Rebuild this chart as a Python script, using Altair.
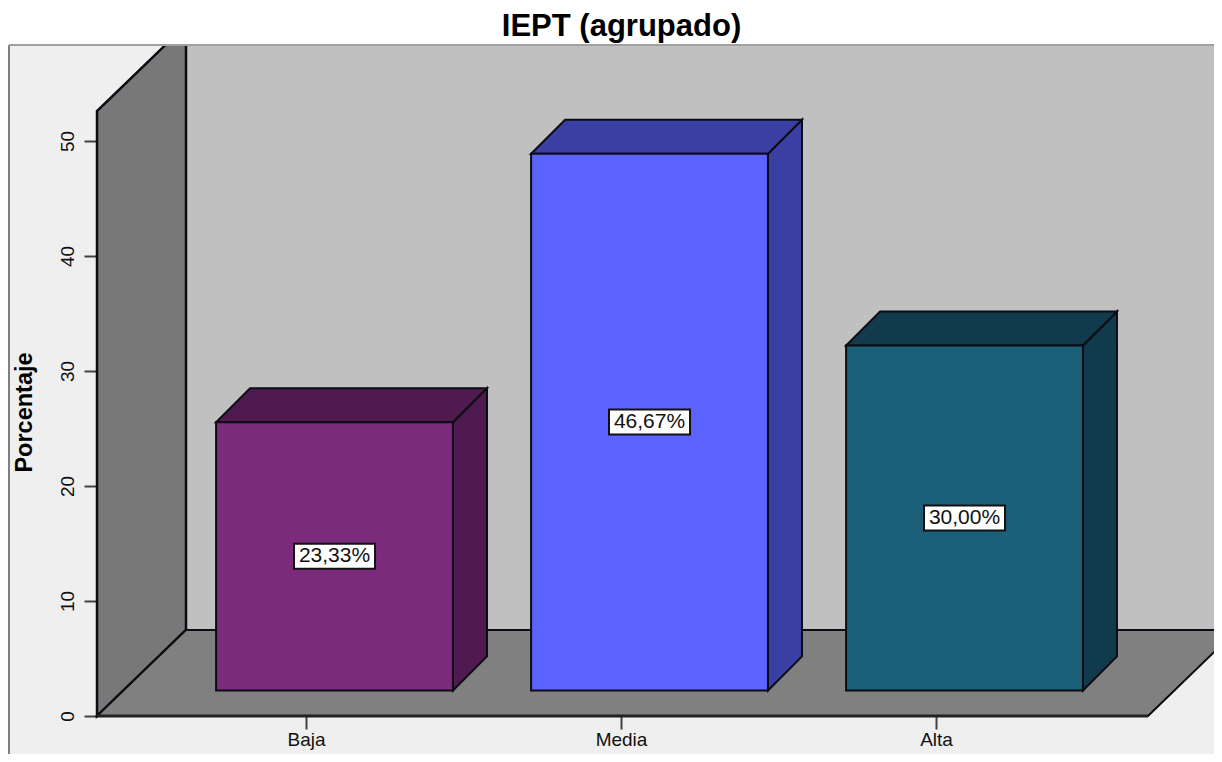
import altair as alt
import pandas as pd

categories = ["Baja", "Media", "Alta"]
percentages = [23.33, 46.67, 30.00]
front_colors = ["#7c2a7c", "#5c63ff", "#1c5f78"]
shade_colors = ["#4f1a4f", "#3a3fa3", "#113b4c"]
y_ticks = [0, 10, 20, 30, 40, 50]

# scale layout, in data units
X_DOMAIN = [0.0571, 3.8825]
Y_DOMAIN = [-3.304, 58.348]
WALL_X, WALL_DX, WALL_DY, WALL_TOP = 0.3365, 0.2825, 7.48, 52.6
FLOOR_END = 3.673
BAR_SHIFT, BAR_HALF, BAR_BASE, BAR_DX, BAR_DY = 0.0905, 0.376, 2.22, 0.108, 2.96
BOX_HALF_X, BOX_HALF_Y = 0.1286, 1.087
FONT = "Liberation Sans"
LINE = "#0c0c14"

xs = alt.Scale(domain=X_DOMAIN, nice=False, zero=False, padding=0)
ys = alt.Scale(domain=Y_DOMAIN, nice=False, zero=False, padding=0)
x_axis = alt.Axis(
    values=[1, 2, 3], offset=-38, domain=False, grid=False, title=None,
    tickSize=13, tickWidth=2, tickColor="#404040",
    labelExpr="[" + ",".join(f"'{c}'" for c in categories) + "][datum.value-1]",
    labelFont=FONT, labelFontSize=19, labelColor="#111111", labelPadding=1,
    labelFlush=False, labelOverlap=False,
)
y_axis = alt.Axis(
    values=y_ticks, offset=-88, domain=False, grid=False,
    tickSize=13, tickWidth=2, tickColor="#404040",
    labelAngle=270, labelFont=FONT, labelFontSize=19, labelColor="#111111",
    labelPadding=7, labelFlush=False, labelOverlap=False,
    title="Porcentaje", titleFont=FONT, titleFontSize=23.5, titleFontWeight="bold",
    titleColor="#000000", titlePadding=22, titleY=367,
)
X = alt.X("x:Q", scale=xs, axis=x_axis)
Y = alt.Y("y:Q", scale=ys, axis=y_axis)
Y2 = alt.Y2("y2:Q")
X2 = alt.X2("x2:Q")


def poly(rows, fill, width=2):
    return alt.Chart(pd.DataFrame(rows)).mark_area(
        clip=True, fill=fill, stroke=LINE, strokeWidth=width
    ).encode(x=X, y=Y, y2=Y2)


def flat_face(x0, x1, low, dx, dy):
    return [
        dict(x=x0, y=low, y2=low),
        dict(x=x0 + dx, y=low, y2=low + dy),
        dict(x=x1, y=low, y2=low + dy),
        dict(x=x1 + dx, y=low + dy, y2=low + dy),
    ]


def side_face(x, low, high, dx, dy):
    return [
        dict(x=x, y=low, y2=high),
        dict(x=x + dx, y=low + dy, y2=high + dy),
    ]


back_wall = alt.Chart(pd.DataFrame([dict(x=WALL_X + WALL_DX, x2=X_DOMAIN[1] + 1, y=WALL_DY, y2=Y_DOMAIN[1] + 1)])).mark_rect(
    clip=True, fill="#c0c0c0", stroke=LINE, strokeWidth=2
).encode(x=X, x2=X2, y=Y, y2=Y2)

left_wall = poly(side_face(WALL_X, 0, WALL_TOP, WALL_DX, WALL_DY), "#787878", 2.5)
floor = poly(flat_face(WALL_X, FLOOR_END, 0, WALL_DX, WALL_DY), "#808080", 2)
front_edge = alt.Chart(pd.DataFrame([dict(x=WALL_X, x2=FLOOR_END, y=0)])).mark_rule(
    color="#222222", strokeWidth=3
).encode(x=X, x2=X2, y=Y)

bar_layers, box_rows, label_rows, front_rows = [], [], [], []
for i, (cat, val) in enumerate(zip(categories, percentages)):
    center = i + 1 + BAR_SHIFT
    x0, x1 = center - BAR_HALF, center + BAR_HALF
    top = BAR_BASE + val
    bar_layers.append(poly(side_face(x1, BAR_BASE, top, BAR_DX, BAR_DY), shade_colors[i]))
    bar_layers.append(poly(flat_face(x0, x1, top, BAR_DX, BAR_DY), shade_colors[i]))
    front_rows.append(dict(x=x0, x2=x1, y=BAR_BASE, y2=top, c=front_colors[i]))
    mid = BAR_BASE + val / 2
    box_rows.append(dict(x=center - BOX_HALF_X, x2=center + BOX_HALF_X, y=mid - BOX_HALF_Y, y2=mid + BOX_HALF_Y))
    label_rows.append(dict(x=center, y=mid, t=f"{val:.2f}".replace(".", ",") + "%"))

fronts = alt.Chart(pd.DataFrame(front_rows)).mark_rect(stroke=LINE, strokeWidth=2).encode(
    x=X, x2=X2, y=Y, y2=Y2, fill=alt.Fill("c:N", scale=None)
)
boxes = alt.Chart(pd.DataFrame(box_rows)).mark_rect(fill="white", stroke="#111111", strokeWidth=2).encode(
    x=X, x2=X2, y=Y, y2=Y2
)
labels = alt.Chart(pd.DataFrame(label_rows)).mark_text(font=FONT, fontSize=21, color="#111111").encode(
    x=X, y=Y, text="t:N"
)

frame_left = alt.Chart(pd.DataFrame({"x": [X_DOMAIN[0]]})).mark_rule(color="#808080", strokeWidth=2).encode(x=X)
frame_top = alt.Chart(pd.DataFrame({"y": [Y_DOMAIN[1]]})).mark_rule(color="#a0a0a0", strokeWidth=2).encode(y=Y)

chart = (
    alt.layer(back_wall, left_wall, floor, front_edge, *bar_layers, fronts, boxes, labels, frame_left, frame_top)
    .properties(
        width=1205,
        height=709,
        padding={"left": 1, "top": 37, "right": 0, "bottom": 0},
        autosize=alt.AutoSizeParams(type="none"),
        background="white",
        title=alt.TitleParams(
            "IEPT (agrupado)", font=FONT, fontSize=31, fontWeight="bold", color="#000000",
            anchor="middle", dx=10, offset=1,
        ),
    )
    .configure_view(fill="#efefef", stroke=None)
)

chart.save("out.html", embed_options={"renderer": "svg", "actions": False})
